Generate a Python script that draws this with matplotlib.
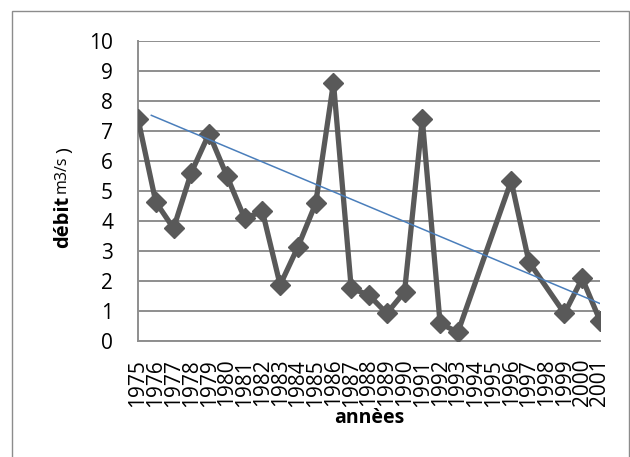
import numpy as np
import matplotlib
matplotlib.use("Agg")
import matplotlib.pyplot as plt
from matplotlib.patches import Rectangle

plt.rcParams['font.family'] = ['Open Sans', 'DejaVu Sans']

# data (None = no measure that year)
years = list(range(1975, 2002))
debit = [7.4, 4.63, 3.75, 5.61, 6.91, 5.5, 4.08, 4.32, 1.86, 3.13,
         4.58, 8.61, 1.75, 1.52, 0.91, 1.63, 7.39, 0.58, 0.28, None,
         None, 5.33, 2.63, None, 0.91, 2.08, 0.67]
# linear trend as drawn (start / end)
trend_x = [0.75, 26.2]
trend_y = [7.52, 1.19]

W, H = 630, 457
fig = plt.figure(figsize=(W / 100, H / 100), dpi=100)
ax = fig.add_axes([138 / W, 1 - 340.7 / H, (600 - 138) / W, (340.7 - 41) / H])

# outer frame of the chart
fig.patches.append(Rectangle((12 / W, -0.1), (629 - 12) / W, 1.1 - 11 / H,
                             transform=fig.transFigure, fill=False,
                             edgecolor='#8c8c8c', lw=1.0))

idx = np.arange(len(years))
ok = np.array([v is not None for v in debit])
vals = np.array([np.nan if v is None else v for v in debit], dtype=float)

ax.plot(idx[ok], vals[ok], color='#595959', lw=3.8, marker='D', ms=10,
        mfc='#595959', mec='#595959', zorder=3)
ax.plot(trend_x, trend_y, color='#4a7ebb', lw=1.1, zorder=4)

ax.set_xlim(0, len(years) - 1)
ax.set_ylim(0, 10)
ax.set_yticks(range(0, 11))
ax.set_xticks(idx)
ax.set_xticklabels([str(y) for y in years], rotation=90, fontsize=15)
ax.tick_params(axis='y', length=0, pad=18, labelsize=15)
ax.tick_params(axis='x', length=0, pad=13)
ax.yaxis.grid(True, color='#8e8e8e', lw=1.4)
ax.set_axisbelow(True)
for s in ['top', 'right']:
    ax.spines[s].set_visible(False)
for s in ['left', 'bottom']:
    ax.spines[s].set_color('#8e8e8e')
    ax.spines[s].set_linewidth(1.4)
ax.spines['left'].set_zorder(0)

# axis titles (y title built from three pieces, stacked bottom to top)
fig.text(369 / W, 1 - 418 / H, 'annèes', fontsize=14, fontweight='bold',
         ha='center', va='center')
fig.text(63 / W, 1 - 248 / H, 'débit', fontsize=14.5, fontweight='bold',
         rotation=90, ha='center', va='bottom')
fig.text(62 / W, 1 - 193 / H, 'm3/s', fontsize=11.5, rotation=90,
         ha='center', va='bottom')
fig.text(64 / W, 1 - 153 / H, ')', fontsize=14,
         rotation=90, ha='center', va='bottom')

fig.savefig('out.png', dpi=100)
